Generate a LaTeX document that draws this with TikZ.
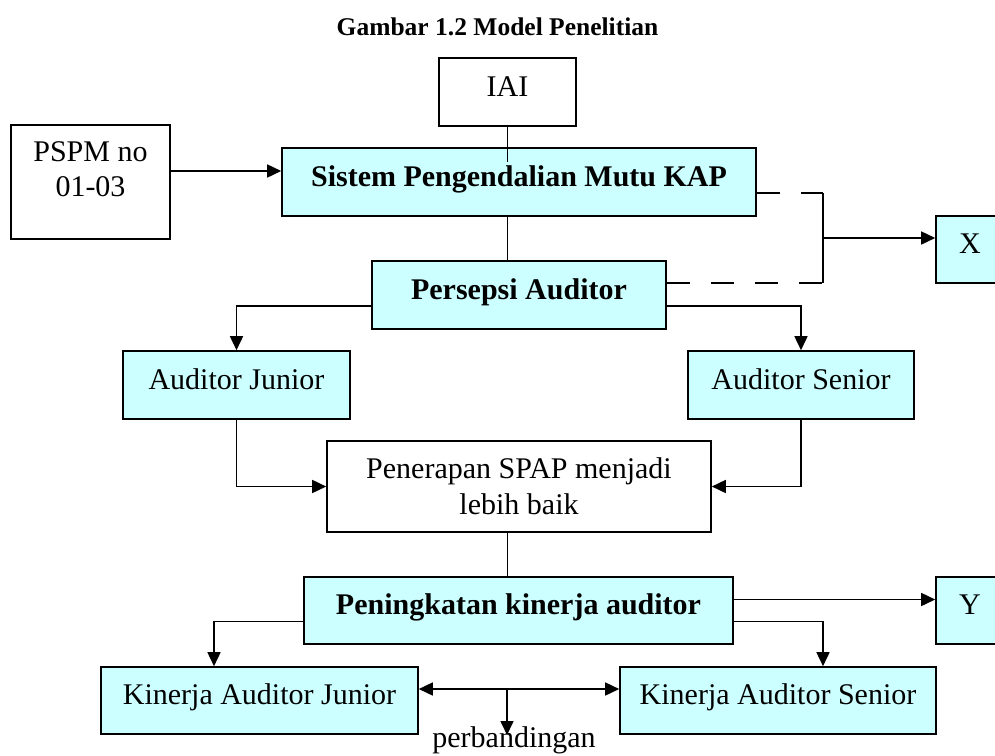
\documentclass[tikz,border=0pt]{standalone}
\usepackage{fontspec}
\setmainfont{Liberation Serif}
\usetikzlibrary{arrows.meta}
\definecolor{boxcyan}{HTML}{CCFFFF}
\begin{document}
\begin{tikzpicture}[x=1pt,y=-1pt,
  base/.style={draw, line width=1.6pt, inner sep=0pt, font=\fontsize{30}{35}\selectfont},
  box/.style={base, text height=20pt, text depth=12pt},
  mlbox/.style={base, align=center},
  cbox/.style={box, fill=boxcyan},
  bbox/.style={cbox, font=\bfseries\fontsize{30}{35}\selectfont},
  conn/.style={line width=1.6pt},
  arr/.style={conn, -{Triangle[length=14pt,width=13pt]}},
  darr/.style={conn, {Triangle[length=14pt,width=13pt]}-{Triangle[length=14pt,width=13pt]}},
  dashln/.style={conn, dash pattern=on 23pt off 21pt}]
\useasboundingbox (0,0) rectangle (995,755);
\clip (0,0) rectangle (995,755);

% title
\node[anchor=base, inner sep=0pt, font=\bfseries\fontsize{25.5}{30}\selectfont] (title) at (497.5,35) {Gambar 1.2 Model Penelitian};

% nodes
\node[box, minimum width=137pt, minimum height=68pt] (iai) at (507.5,92) {IAI};
\node[mlbox, minimum width=159pt, minimum height=114pt] (pspm) at (90.5,182) {PSPM no\\01-03\rule[-25pt]{0pt}{1pt}};
\node[bbox, minimum width=474pt, minimum height=68pt] (sistem) at (519,182) {Sistem Pengendalian Mutu KAP};
\node[bbox, minimum width=294pt, minimum height=68pt] (persepsi) at (519,295) {Persepsi Auditor};
\node[cbox, minimum width=68pt, minimum height=67pt] (xbox) at (970,249.5) {X};
\node[cbox, minimum width=227pt, minimum height=68pt] (ajunior) at (236.5,385) {Auditor Junior};
\node[cbox, minimum width=226pt, minimum height=68pt] (asenior) at (801,385) {Auditor Senior};
\node[mlbox, font=\fontsize{30}{36}\selectfont, minimum width=384pt, minimum height=91pt] (penerapan) at (519,486.5) {Penerapan SPAP menjadi\\lebih baik};
\node[bbox, minimum width=429pt, minimum height=67pt] (peningkatan) at (518.5,610.5) {Peningkatan kinerja auditor};
\node[cbox, minimum width=68pt, minimum height=67pt] (ybox) at (970,610.5) {Y};
\node[cbox, minimum width=317pt, minimum height=67pt] (kjunior) at (259.5,700.5) {Kinerja Auditor Junior};
\node[cbox, minimum width=316pt, minimum height=67pt] (ksenior) at (778,700.5) {Kinerja Auditor Senior};
\node[anchor=base, inner sep=0pt, font=\fontsize{30}{35}\selectfont] (perb) at (514,747) {perbandingan};

% helper coordinates
\coordinate (jt) at (823,193);
\coordinate (jb) at (823,283);
\coordinate (jm) at (823,238);
\coordinate (cm) at (507,689);
\coordinate (tip) at (507,735);

% connectors
\draw[arr] ([yshift=11pt]pspm.east) -- ([yshift=11pt]sistem.west);
\draw[conn] (iai.south) -- ([yshift=-15pt]iai.south |- sistem.north);
\draw[conn] (iai.south |- sistem.south) -- (iai.south |- persepsi.north);
\draw[dashln] ([yshift=-11pt]sistem.east) -- (jt);
\draw[conn] (jt) -- (jb);
\draw[dashln] ([yshift=12pt]persepsi.east) -- (jb);
\draw[arr] (jm) -- (jm -| xbox.west);
\draw[arr] ([yshift=-11pt]persepsi.west) -| (ajunior.north);
\draw[arr] ([yshift=-11pt]persepsi.east) -| (asenior.north);
\draw[arr] (ajunior.south) |- (penerapan.west);
\draw[arr] (asenior.south) |- (penerapan.east);
\draw[conn] (iai.south |- penerapan.south) -- (iai.south |- peningkatan.north);
\draw[arr] ([yshift=11pt]peningkatan.east) -- ([yshift=11pt]peningkatan.east -| ybox.west);
\draw[arr] ([yshift=-11pt]peningkatan.west) -| ([xshift=-45.5pt]kjunior.north);
\draw[arr] ([yshift=-11pt]peningkatan.east) -| ([xshift=45pt]ksenior.north);
\draw[darr] ([yshift=11.5pt]kjunior.east) -- ([yshift=11.5pt]ksenior.west);
\draw[arr] (cm) -- (tip);
\end{tikzpicture}
\end{document}
